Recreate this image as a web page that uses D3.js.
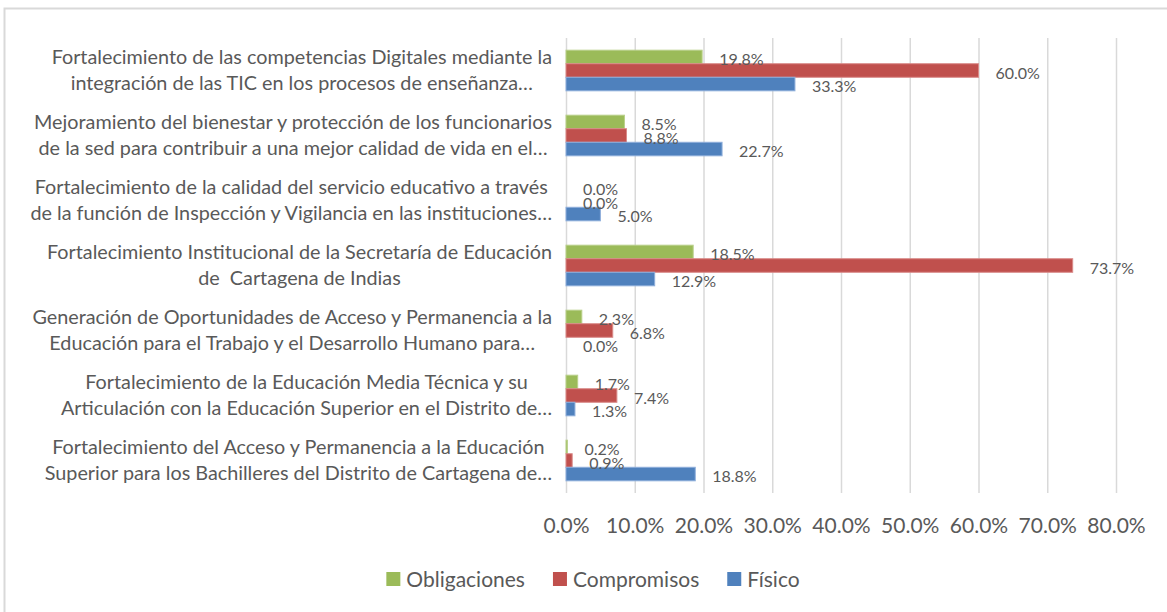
<html>

<head>
  <style>
    body {
      padding: 0px;
      margin: 0px;
      background-color: white;
    }

    svg text {
      font-family: Lato, "Open Sans", sans-serif;
      fill: #595959;
    }
  </style>
</head>

<body>
  <div id="chart"></div>
  <script src="https://cdnjs.cloudflare.com/ajax/libs/d3/7.8.5/d3.min.js"></script>
  <script>
    // data (percent)
    var categories = [
      ["Fortalecimiento de las competencias Digitales mediante la", "integración de las TIC en los procesos de enseñanza…"],
      ["Mejoramiento del bienestar y protección de los funcionarios", "de la sed para contribuir a una mejor calidad de vida en el…"],
      ["Fortalecimiento de la calidad del servicio educativo a través", "de la función de Inspección y Vigilancia en las instituciones…"],
      ["Fortalecimiento Institucional de la Secretaría de Educación", "de  Cartagena de Indias"],
      ["Generación de Oportunidades de Acceso y Permanencia a la", "Educación para el Trabajo y el Desarrollo Humano para…"],
      ["Fortalecimiento de la Educación Media Técnica y su", "Articulación con la Educación Superior en el Distrito de…"],
      ["Fortalecimiento del Acceso y Permanencia a la Educación", "Superior para los Bachilleres del Distrito de Cartagena de…"]
    ];
    var obligaciones = [19.8, 8.5, 0.0, 18.5, 2.3, 1.7, 0.2];
    var compromisos = [60.0, 8.8, 0.0, 73.7, 6.8, 7.4, 0.9];
    var fisico = [33.3, 22.7, 5.0, 12.9, 0.0, 1.3, 18.8];
    var seriesNames = ["Obligaciones", "Compromisos", "Físico"];
    var seriesColors = ["#9bbb59", "#c0504d", "#4f81bd"];
    var seriesStroke = ["#b9d08a", "#d98a88", "#8eaedb"];
    var xTicks = [0, 10, 20, 30, 40, 50, 60, 70, 80];

    var W = 1167, H = 612;
    var plot = { left: 566, right: 1116, top: 38, bottom: 493 };

    var svg = d3.select('#chart').append('svg')
      .attr('width', W)
      .attr('height', H);

    // chart border (only top/left visible in the crop)
    svg.append('rect')
      .attr('x', 4.5)
      .attr('y', 8.5)
      .attr('width', W + 20)
      .attr('height', H + 20)
      .attr('fill', 'white')
      .attr('stroke', '#d9d9d9')
      .attr('stroke-width', 2);

    var x = d3.scaleLinear().domain([0, 80]).range([plot.left, plot.right]);
    var y = d3.scaleBand()
      .domain(d3.range(categories.length))
      .range([plot.top, plot.bottom])
      .paddingInner(0.375)
      .paddingOuter(0.1875);
    var ySub = d3.scaleBand()
      .domain(d3.range(seriesNames.length))
      .range([0, y.bandwidth()]);

    // gridlines + tick labels
    var xAxis = d3.axisBottom(x)
      .tickValues(xTicks)
      .tickSize(-(plot.bottom - plot.top))
      .tickFormat(function(d) { return d.toFixed(1) + '%'; });

    var gx = svg.append('g')
      .attr('transform', 'translate(0,' + plot.bottom + ')')
      .call(xAxis);
    gx.select('.domain').remove();
    gx.selectAll('.tick line')
      .attr('stroke', '#d9d9d9')
      .attr('stroke-width', 1.5);
    gx.selectAll('.tick text')
      .attr('y', 40)
      .attr('dy', 0)
      .style('font-size', '21px')
      .style('font-family', 'Lato, sans-serif')
      .attr('fill', '#595959');

    // bars
    var rows = categories.map(function(c, i) {
      return [obligaciones[i], compromisos[i], fisico[i]];
    });

    var groups = svg.selectAll('.cat')
      .data(rows)
      .enter()
      .append('g')
      .attr('class', 'cat')
      .attr('transform', function(d, i) { return 'translate(0,' + y(i) + ')'; });

    groups.selectAll('rect')
      .data(function(d) { return d; })
      .enter()
      .append('rect')
      .attr('x', x(0))
      .attr('y', function(d, j) { return ySub(j); })
      .attr('width', function(d) { return x(d) - x(0); })
      .attr('height', ySub.bandwidth())
      .attr('fill', function(d, j) { return seriesColors[j]; })
      .attr('stroke', function(d, j) { return d > 0 ? seriesStroke[j] : 'none'; })
      .attr('stroke-width', 1);

    groups.selectAll('text')
      .data(function(d) { return d; })
      .enter()
      .append('text')
      .attr('x', function(d) { return x(d) + 17; })
      .attr('y', function(d, j) { return ySub(j) + ySub.bandwidth() / 2 + 8; })
      .style('font-size', '16px')
      .text(function(d) { return d.toFixed(1) + '%'; });

    // category labels: lines centred inside a block that is right-aligned to the axis
    var labelRight = plot.left - 14;
    var lineGap = 25.5;
    categories.forEach(function(lines, i) {
      var cy = y(i) + y.bandwidth() / 2;
      var t = svg.append('text')
        .attr('text-anchor', 'middle')
        .style('font-size', '19.8px')
        .style('white-space', 'pre');
      var spans = lines.map(function(line, k) {
        return t.append('tspan')
          .attr('y', cy + (k - (lines.length - 1) / 2) * lineGap + 6.5)
          .text(line);
      });
      var maxW = d3.max(spans, function(s) { return s.node().getComputedTextLength(); });
      spans.forEach(function(s) { s.attr('x', labelRight - maxW / 2); });
    });

    // legend
    var legend = svg.append('g');
    var lx = 0;
    seriesNames.forEach(function(name, j) {
      var item = legend.append('g').attr('transform', 'translate(' + lx + ',0)');
      item.append('rect')
        .attr('x', 0)
        .attr('y', -7)
        .attr('width', 14)
        .attr('height', 14)
        .attr('fill', seriesColors[j]);
      var txt = item.append('text')
        .attr('x', 20)
        .attr('y', 7.5)
        .style('font-size', '21px')
        .text(name);
      lx += 20 + txt.node().getComputedTextLength() + 28;
    });
    var legendW = lx - 28;
    legend.attr('transform', 'translate(' + (593 - legendW / 2) + ',579)');
  </script>
</body>

</html>
